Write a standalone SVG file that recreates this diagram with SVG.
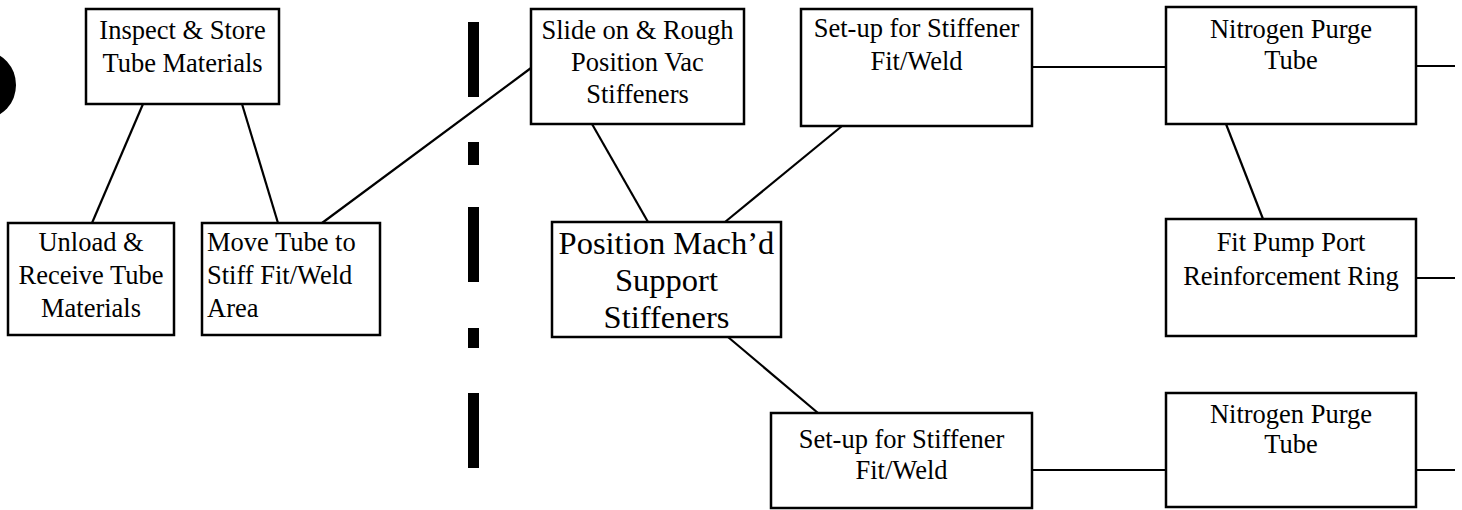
<svg xmlns="http://www.w3.org/2000/svg" width="1462" height="510" viewBox="0 0 1462 510">
<style>
.box{fill:#fff;stroke:#000;stroke-width:2.5}
.c{stroke:#000;stroke-width:2.2;fill:none}
text{font-family:"Liberation Serif","Times New Roman",serif;font-size:26.5px;fill:#000}
.m{text-anchor:middle}
.big{font-size:32.5px}
</style>
<rect width="1462" height="510" fill="#fff"/>
<ellipse cx="-14" cy="85" rx="30" ry="33" fill="#000"/>
<g id="separator" fill="#000">
<rect x="468" y="22" width="11" height="75"/>
<rect x="468" y="142" width="11" height="23"/>
<rect x="468" y="207" width="11" height="75"/>
<rect x="468" y="328" width="11" height="20"/>
<rect x="468" y="393" width="11" height="75"/>
</g>
<g id="connectors">
<line class="c" x1="143" y1="104" x2="92" y2="223"/>
<line class="c" x1="242" y1="104" x2="278" y2="223"/>
<line class="c" x1="322" y1="223" x2="531" y2="68"/>
<line class="c" x1="592" y1="124" x2="648" y2="222"/>
<line class="c" x1="725" y1="222" x2="842" y2="126"/>
<line class="c" x1="728" y1="337" x2="818" y2="413"/>
<line class="c" x1="1032" y1="67" x2="1166" y2="67"/>
<line class="c" x1="1226" y1="124" x2="1263" y2="219"/>
<line class="c" x1="1416" y1="66" x2="1455" y2="66"/>
<line class="c" x1="1416" y1="278" x2="1455" y2="278"/>
<line class="c" x1="1032" y1="470" x2="1166" y2="470"/>
<line class="c" x1="1416" y1="470" x2="1455" y2="470"/>
</g>
<g id="inspect">
<rect class="box" x="86" y="9" width="193" height="95"/>
<text class="m" x="182.5" y="39">Inspect &amp; Store</text>
<text class="m" x="182.5" y="72">Tube Materials</text>
</g>
<g id="unload">
<rect class="box" x="8" y="223" width="166" height="112"/>
<text class="m" x="91" y="251">Unload &amp;</text>
<text class="m" x="91" y="284">Receive Tube</text>
<text class="m" x="91" y="317">Materials</text>
</g>
<g id="move">
<rect class="box" x="202" y="223" width="178" height="112"/>
<text x="207" y="251">Move Tube to</text>
<text x="207" y="284">Stiff Fit/Weld</text>
<text x="207" y="317">Area</text>
</g>
<g id="slide">
<rect class="box" x="531" y="9" width="213" height="115"/>
<text class="m" x="637.5" y="39">Slide on &amp; Rough</text>
<text class="m" x="637.5" y="71">Position Vac</text>
<text class="m" x="637.5" y="103">Stiffeners</text>
</g>
<g id="position">
<rect class="box" x="552" y="222" width="229" height="115"/>
<text class="m big" x="666.5" y="254">Position Mach’d</text>
<text class="m big" x="666.5" y="291">Support</text>
<text class="m big" x="666.5" y="328">Stiffeners</text>
</g>
<g id="setup1">
<rect class="box" x="801" y="9" width="231" height="117"/>
<text class="m" x="916.5" y="37">Set-up for Stiffener</text>
<text class="m" x="916.5" y="70">Fit/Weld</text>
</g>
<g id="nitrogen1">
<rect class="box" x="1166" y="7" width="250" height="117"/>
<text class="m" x="1291" y="38">Nitrogen Purge</text>
<text class="m" x="1291" y="69">Tube</text>
</g>
<g id="fitpump">
<rect class="box" x="1166" y="219" width="250" height="117"/>
<text class="m" x="1291" y="251">Fit Pump Port</text>
<text class="m" x="1291" y="285">Reinforcement Ring</text>
</g>
<g id="setup2">
<rect class="box" x="771" y="413" width="261" height="95"/>
<text class="m" x="901.5" y="448">Set-up for Stiffener</text>
<text class="m" x="901.5" y="479">Fit/Weld</text>
</g>
<g id="nitrogen2">
<rect class="box" x="1166" y="393" width="250" height="114"/>
<text class="m" x="1291" y="423">Nitrogen Purge</text>
<text class="m" x="1291" y="453">Tube</text>
</g>
</svg>
